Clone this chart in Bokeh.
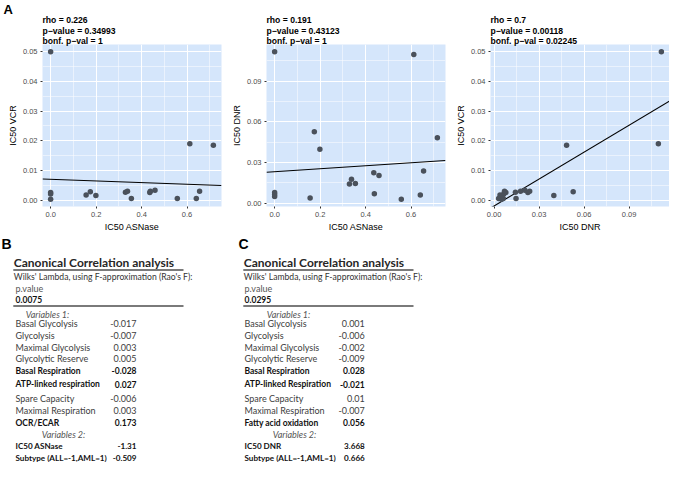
import numpy as np
from bokeh.plotting import figure
from bokeh.models import Range1d, FixedTicker, NumeralTickFormatter, Title
from bokeh.layouts import column, row
from bokeh.embed import file_html
from bokeh.resources import INLINE
from bokeh.core.properties import value

# ---------------- data ----------------
ic50_asnase = [0.0, 0.0, 0.0, 0.0, 0.156, 0.1745, 0.199, 0.329, 0.338, 0.355,
               0.436, 0.4385, 0.459, 0.557, 0.612, 0.6406, 0.655, 0.7156]
ic50_vcr = [0.0500, 0.0025, 0.0020, 0.0003, 0.0017, 0.0028, 0.0015, 0.0026, 0.0030, 0.0005,
            0.0025, 0.0030, 0.0033, 0.0005, 0.0190, 0.0005, 0.0030, 0.0185]
ic50_dnr = [0.1115, 0.0078, 0.0064, 0.0049, 0.0039, 0.0527, 0.0398, 0.0142, 0.0176, 0.0146,
            0.0225, 0.0069, 0.0205, 0.0030, 0.1095, 0.0061, 0.0237, 0.0483]

# fitted lines as drawn in the picture: [intercept, slope]
fit_asnase_vcr = [0.0070, -0.0028]
fit_asnase_dnr = [0.0232, 0.0110]
fit_dnr_vcr = [-0.0020, 0.303]

stats_1 = ["rho = 0.226", "p\u2212value = 0.34993", "bonf. p\u2212val = 1"]
stats_2 = ["rho = 0.191", "p\u2212value = 0.43123", "bonf. p\u2212val = 1"]
stats_3 = ["rho = 0.7", "p\u2212value = 0.00118", "bonf. p\u2212val = 0.02245"]

asnase_ticks = [0.0, 0.2, 0.4, 0.6]
asnase_minor = [0.1, 0.3, 0.5, 0.7]
vcr_ticks = [0.00, 0.01, 0.02, 0.03, 0.04, 0.05]
vcr_minor = [0.005, 0.015, 0.025, 0.035, 0.045]
dnr_ticks = [0.00, 0.03, 0.06, 0.09]
dnr_minor = [0.015, 0.045, 0.075, 0.105]

table_title = "Canonical Correlation analysis"
wilks_text = "Wilks' Lambda, using F-approximation (Rao's F):"
pvalue_label = "p.value"
var1_label = "Variables 1:"
var2_label = "Variables 2:"

b_pvalue = "0.0075"
b_var1_names = ["Basal Glycolysis", "Glycolysis", "Maximal Glycolysis", "Glycolytic Reserve",
                "Basal Respiration", "ATP-linked respiration", "Spare Capacity",
                "Maximal Respiration", "OCR/ECAR"]
b_var1_coefs = ["-0.017", "-0.007", "0.003", "0.005", "-0.028", "0.027", "-0.006", "0.003", "0.173"]
b_var1_bold = [False, False, False, False, True, True, False, False, True]
b_var2_names = ["IC50 ASNase", "Subtype (ALL=-1,AML=1)"]
b_var2_coefs = ["-1.31", "-0.509"]

c_pvalue = "0.0295"
c_var1_names = ["Basal Glycolysis", "Glycolysis", "Maximal Glycolysis", "Glycolytic Reserve",
                "Basal Respiration", "ATP-linked Respiration", "Spare Capacity",
                "Maximal Respiration", "Fatty acid oxidation"]
c_var1_coefs = ["0.001", "-0.006", "-0.002", "-0.009", "0.028", "-0.021", "0.01", "-0.007", "0.056"]
c_var1_bold = [False, False, False, False, True, True, False, False, True]
c_var2_names = ["IC50 DNR", "Subtype (ALL=-1,AML=1)"]
c_var2_coefs = ["3.668", "0.666"]

# ---------------- styles ----------------
PANEL = "#d5e6fb"
POINT = "#4a515b"
GG_FONT = "Liberation Sans"
TAB_FONT = "Lato"
TOP_H = 234
BORDER_TOP = 44
BORDER_BOTTOM = 27


def scatter_panel(x, y, fit, xticks, xminor, yticks, yminor, xfmt, yfmt, xlabel, ylabel,
                  stats, letter, width, bl, br):
    xs = np.array(x, dtype=float)
    ys = np.array(y, dtype=float)
    xpad = 0.05 * (xs.max() - xs.min())
    ypad = 0.05 * (ys.max() - ys.min())
    p = figure(width=width, height=TOP_H, output_backend="svg", toolbar_location=None,
               title_location=None,
               x_range=Range1d(xs.min() - xpad, xs.max() + xpad),
               y_range=Range1d(ys.min() - ypad, ys.max() + ypad),
               min_border_left=bl, min_border_right=br, min_border_top=BORDER_TOP,
               min_border_bottom=BORDER_BOTTOM,
               background_fill_color=PANEL, border_fill_color="white", outline_line_color=None)
    # statistics block (closest to the panel), then panel letter row above it
    p.add_layout(Title(text="\n".join(stats), align="left", offset=0, standoff=-4,
                       text_font=GG_FONT, text_font_size="8.6px", text_font_style="bold",
                       text_color="black", text_line_height=1.08), "above")
    p.add_layout(Title(text=letter, align="left", offset=-(bl - 3), standoff=-4,
                       text_font=GG_FONT, text_font_size="13px", text_font_style="bold",
                       text_color="black"), "above")

    xt = FixedTicker(ticks=xticks, minor_ticks=xminor)
    yt = FixedTicker(ticks=yticks, minor_ticks=yminor)
    p.xaxis.ticker = xt
    p.yaxis.ticker = yt
    p.xgrid.ticker = xt
    p.ygrid.ticker = yt
    p.xaxis.formatter = NumeralTickFormatter(format=xfmt)
    p.yaxis.formatter = NumeralTickFormatter(format=yfmt)
    p.xaxis.axis_label = xlabel
    p.yaxis.axis_label = ylabel
    for ax in (p.xaxis[0], p.yaxis[0]):
        ax.axis_line_color = None
        ax.major_tick_line_color = "#333333"
        ax.major_tick_out = 2
        ax.major_tick_in = 0
        ax.minor_tick_line_color = None
        ax.major_label_text_font = GG_FONT
        ax.major_label_text_font_size = "7.5px"
        ax.major_label_text_color = "#4d4d4d"
        ax.major_label_standoff = 1
        ax.axis_label_text_font = GG_FONT
        ax.axis_label_text_font_size = "9px"
        ax.axis_label_text_font_style = "normal"
        ax.axis_label_text_color = "black"
        ax.axis_label_standoff = 2
    for g in (p.xgrid[0], p.ygrid[0]):
        g.grid_line_color = "white"
        g.grid_line_width = 1
        g.minor_grid_line_color = "white"
        g.minor_grid_line_width = 0.5

    intercept, slope = fit
    xr = np.array([p.x_range.start, p.x_range.end])
    p.line(xr, intercept + slope * xr, line_color="black", line_width=1.1)
    p.scatter(xs, ys, size=5.5, fill_color=POINT, line_color=None)
    return p


p1 = scatter_panel(ic50_asnase, ic50_vcr, fit_asnase_vcr, asnase_ticks, asnase_minor,
                   vcr_ticks, vcr_minor, "0.0", "0.00", "IC50 ASNase", "IC50 VCR",
                   stats_1, "A", 228, 42, 7)
p2 = scatter_panel(ic50_asnase, ic50_dnr, fit_asnase_dnr, asnase_ticks, asnase_minor,
                   dnr_ticks, dnr_minor, "0.0", "0.00", "IC50 ASNase", "IC50 DNR",
                   stats_2, " ", 224, 38, 7)
p3 = scatter_panel(ic50_dnr, ic50_vcr, fit_dnr_vcr, dnr_ticks, dnr_minor,
                   vcr_ticks, vcr_minor, "0.00", "0.00", "IC50 DNR", "IC50 VCR",
                   stats_3, " ", 217, 38, 0)

# ---------------- tables ----------------
BW, BH = 669, 228
tb = figure(width=BW, height=BH, output_backend="svg", toolbar_location=None,
            x_range=Range1d(0, BW), y_range=Range1d(BH, 0),
            x_axis_type=None, y_axis_type=None, min_border=0,
            outline_line_color=None, border_fill_color="white", background_fill_color="white")

Y_TITLE, Y_RULE1, Y_WILKS, Y_PLAB, Y_PVAL, Y_RULE2, Y_VAR1 = 28.3, 35.6, 42.5, 54.1, 64.7, 71.5, 79.6
row_y = [89.4, 101.0, 112.6, 124.2, 136.4, 149.5, 163.7, 176.3, 188.0]
var2_y = 200.0
var2_row_y = [211.8, 223.3]
FS = "9px"
FS_BOLD = "8.5px"
FS_VAR2 = "8.1px"
FS_WILKS = "8.6px"
NORMAL_C = "#404040"
BOLD_C = "#111111"


def put(xs, ys, texts, size, style="normal", color="#333333", align="left", font=TAB_FONT):
    tb.text(x=xs, y=ys, text=texts, text_font=value(font), text_font_size=size,
            text_font_style=style, text_color=color, text_align=align, text_baseline="middle")


def table(x0, rule_end, lab_x, value_right, var1_cx, var2_cx, pval, names, coefs, bold,
          v2names, v2coefs):
    put([x0], [Y_TITLE], [table_title], "12px", "bold", "#262626")
    tb.segment(x0=[x0 - 0.5], y0=[Y_RULE1], x1=[rule_end], y1=[Y_RULE1],
               line_color="#7a7a7a", line_width=2)
    put([x0], [Y_WILKS], [wilks_text], FS_WILKS, "normal", "#333333")
    put([lab_x], [Y_PLAB], [pvalue_label], FS, "normal", "#555555")
    put([lab_x], [Y_PVAL], [pval], FS_BOLD, "bold", BOLD_C)
    tb.segment(x0=[x0 - 0.5], y0=[Y_RULE2], x1=[rule_end], y1=[Y_RULE2],
               line_color="#7a7a7a", line_width=2)
    put([var1_cx], [Y_VAR1], [var1_label], FS, "italic", "#555555", "center")
    for nm, cf, bd, yy in zip(names, coefs, bold, row_y):
        col = BOLD_C if bd else NORMAL_C
        st = "bold" if bd else "normal"
        sz = FS_BOLD if bd else FS
        put([lab_x], [yy], [nm], sz, st, col)
        put([value_right], [yy], [cf], sz, st, col, "right")
    put([var2_cx], [var2_y], [var2_label], FS, "italic", "#555555", "center")
    for nm, cf, yy in zip(v2names, v2coefs, var2_row_y):
        put([lab_x], [yy], [nm], FS_VAR2, "bold", BOLD_C)
        put([value_right], [yy], [cf], FS_VAR2, "bold", BOLD_C, "right")


put([1], [9.9], ["B"], "14px", "bold", "black", font=GG_FONT)
put([238], [9.9], ["C"], "14px", "bold", "black", font=GG_FONT)
table(13.3, 183, 15, 136, 47, 63, b_pvalue, b_var1_names, b_var1_coefs, b_var1_bold,
      b_var2_names, b_var2_coefs)
table(243.3, 413, 244, 364.3, 288, 294, c_pvalue, c_var1_names, c_var1_coefs, c_var1_bold,
      c_var2_names, c_var2_coefs)

layout = column(row(p1, p2, p3), tb)
open("out.html", "w").write(file_html(layout, INLINE))
